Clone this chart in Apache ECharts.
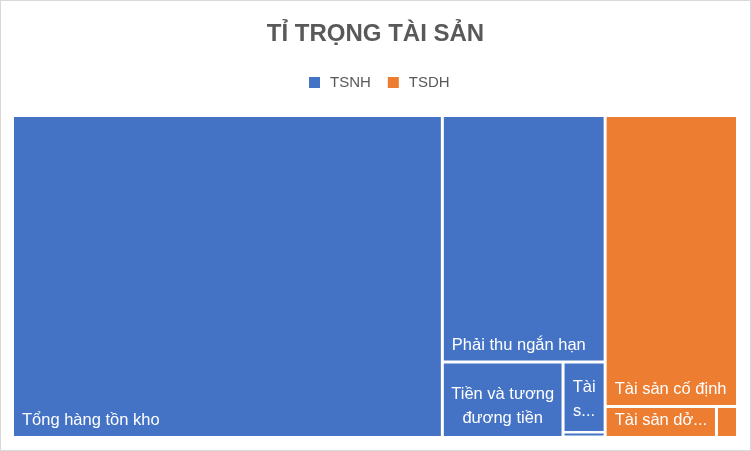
<!DOCTYPE html>
<html><head><meta charset="utf-8">
<script src="https://cdn.jsdelivr.net/npm/echarts@6/dist/echarts.min.js"></script>
<style>html,body{margin:0;padding:0;background:#fff;}#c{width:749px;height:449px;border:1px solid #d9d9d9;}</style>
</head><body><div id="c"></div>
<script>
const chartTitle = 'TỈ TRỌNG TÀI SẢN';
const groupNames = ['TSNH', 'TSDH'];
const groupColors = ['#4472C4', '#ED7D31'];
const tsnhNames = ['Tổng hàng tồn kho', 'Phải thu ngắn hạn', 'Tiền và tương đương tiền', 'Tài sản ngắn hạn khác', 'Đầu tư tài chính ngắn hạn'];
const tsnhValues = [59.3, 17.2, 3.9, 1.27, 0.09];
const tsdhNames = ['Tài sản cố định', 'Tài sản dở dang dài hạn', 'Tài sản dài hạn khác'];
const tsdhValues = [16.5, 1.48, 0.28];

const labelOverrides = {
  'Tiền và tương đương tiền': { position: ['50%', '59%'], align: 'center', verticalAlign: 'middle', overflow: 'none', lineHeight: 24, formatter: 'Tiền và tương\nđương tiền', padding: 0 },
  'Tài sản ngắn hạn khác': { position: ['50%', '53%'], align: 'center', verticalAlign: 'middle', overflow: 'none', lineHeight: 24, formatter: 'Tài\ns...', padding: 0 },
  'Tài sản dở dang dài hạn': { formatter: 'Tài sản dở...', padding: [0, 2, 7, 8] },
  'Tài sản dài hạn khác': { show: false },
  'Đầu tư tài chính ngắn hạn': { show: false }
};

function leaves(names, values) {
  return names.map((n, i) => {
    const item = { name: n, value: values[i] };
    if (labelOverrides[n]) item.label = labelOverrides[n];
    return item;
  });
}

const treeData = [
  { name: groupNames[0], itemStyle: { color: groupColors[0] }, children: leaves(tsnhNames, tsnhValues) },
  { name: groupNames[1], itemStyle: { color: groupColors[1] }, children: leaves(tsdhNames, tsdhValues) }
];

const chart = echarts.init(document.getElementById('c'), null, { renderer: 'canvas' });
chart.setOption({
  animation: false,
  backgroundColor: '#fff',
  title: {
    text: chartTitle, left: 'center', top: 16,
    textStyle: { fontFamily: 'Liberation Sans', fontSize: 24, fontWeight: 'bold', color: '#595959' }
  },
  legend: {
    data: groupNames, left: 303, top: 69, icon: 'rect', itemWidth: 11, itemHeight: 11, itemGap: 17,
    textStyle: { fontFamily: 'Liberation Sans', fontSize: 15, color: '#595959', padding: [0, 0, 0, 5] },
    selectedMode: false
  },
  series: [
    {
      type: 'treemap', left: 13, top: 116, width: 722, height: 319,
      roam: false, nodeClick: false, breadcrumb: { show: false },
      squareRatio: 1,
      label: {
        show: true, position: 'insideBottomLeft', distance: 0, padding: [0, 6, 7, 8],
        fontFamily: 'Liberation Sans', fontSize: 16.5, color: '#fff', overflow: 'truncate', ellipsis: '...'
      },
      upperLabel: { show: false },
      levels: [
        { itemStyle: { gapWidth: 3, borderWidth: 0, borderColor: '#fff' } },
        { itemStyle: { gapWidth: 3, borderWidth: 0, borderColor: '#fff' } },
        { itemStyle: { borderWidth: 0 } }
      ],
      data: treeData
    },
    { type: 'pie', name: groupNames[0], radius: 0, data: [], showEmptyCircle: false, itemStyle: { color: groupColors[0] }, silent: true },
    { type: 'pie', name: groupNames[1], radius: 0, data: [], showEmptyCircle: false, itemStyle: { color: groupColors[1] }, silent: true }
  ]
});
</script></body></html>
